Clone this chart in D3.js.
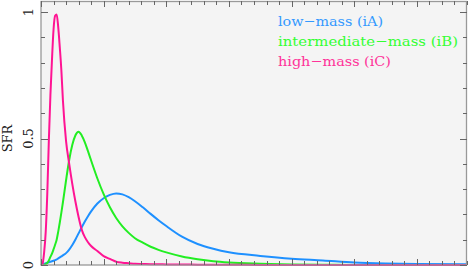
<!DOCTYPE html>
<html><head><meta charset="utf-8">
<script src="https://cdn.jsdelivr.net/npm/d3@7"></script>
<style>html,body{margin:0;padding:0;background:#fff;}svg{display:block;}</style>
</head><body>
<script>
// Data (age in Gyr, star formation rate normalised)
const age = [0, 0.05, 0.1, 0.15, 0.2, 0.25, 0.3, 0.35, 0.4, 0.45, 0.5, 0.55, 0.6, 0.65, 0.7, 0.8, 0.9, 1.0, 1.1, 1.2, 1.3, 1.4, 1.5, 1.6, 1.8, 2.0, 2.2, 2.4, 2.6, 2.8, 3.0, 3.25, 3.5, 3.75, 4.0, 4.5, 5.0, 5.5, 6.0, 7.0, 8.0, 9.0, 10.0, 11.0, 12.0, 13.6];
const lowMass = [0, 0.002, 0.005, 0.007, 0.009, 0.011, 0.013, 0.015, 0.017, 0.019, 0.022, 0.026, 0.03, 0.034, 0.038, 0.047, 0.061, 0.079, 0.101, 0.125, 0.149, 0.172, 0.193, 0.212, 0.243, 0.264, 0.277, 0.283, 0.279, 0.268, 0.252, 0.228, 0.202, 0.177, 0.154, 0.112, 0.083, 0.064, 0.05, 0.036, 0.025, 0.018, 0.01, 0.006, 0.004, 0.003];
const intermediateMass = [0, 0, 0.001, 0.003, 0.008, 0.018, 0.032, 0.045, 0.062, 0.08, 0.1, 0.132, 0.168, 0.207, 0.248, 0.335, 0.415, 0.475, 0.513, 0.527, 0.512, 0.485, 0.45, 0.413, 0.342, 0.28, 0.228, 0.186, 0.153, 0.127, 0.106, 0.088, 0.072, 0.06, 0.05, 0.034, 0.023, 0.015, 0.01, 0.005, 0.002, 0.001, 0, 0, 0, 0];
const highMass = [0, 0.005, 0.05, 0.13, 0.28, 0.49, 0.67, 0.81, 0.93, 0.985, 0.99, 0.94, 0.86, 0.77, 0.65, 0.49, 0.40, 0.32, 0.25, 0.19, 0.14, 0.11, 0.09, 0.075, 0.055, 0.035, 0.024, 0.013, 0.009, 0.007, 0.005, 0.004, 0.003, 0.003, 0.002, 0.002, 0.001, 0.001, 0.001, 0, 0, 0, 0, 0, 0, 0];
const seriesNames = ["low\u2212mass (iA)", "intermediate\u2212mass (iB)", "high\u2212mass (iC)"];
const seriesColors = ["#1e90ff", "#22ee22", "#ff1493"];
const labelColors = ["#3399ff", "#33ff33", "#ff3399"];
const xMajorTicks = [0, 2, 4, 6, 8, 10, 12];
const xMinorTicks = [0.4, 0.8, 1.2, 1.6, 2.4, 2.8, 3.2, 3.6, 4.4, 4.8, 5.2, 5.6, 6.4, 6.8, 7.2, 7.6, 8.4, 8.8, 9.2, 9.6, 10.4, 10.8, 11.2, 11.6, 12.4, 12.8, 13.2, 13.6];
const yMajorTicks = [0, 0.5, 1];
const yTickLabels = ["0", "0.5", "1"];
const yMinorTicks = [0.1, 0.2, 0.3, 0.4, 0.6, 0.7, 0.8, 0.9];
const yTitle = "SFR";

const W = 469, H = 270;
const m = {top: 1, right: 2, bottom: 5, left: 41};
const svg = d3.select("body").append("svg").attr("width", W).attr("height", H);

const x = d3.scaleLinear().domain([0, 13.6]).range([m.left, W - m.right]);
const y = d3.scaleLinear().domain([0, 1.0435]).range([H - m.bottom, m.top]);

svg.append("rect").attr("x", m.left).attr("y", m.top)
  .attr("width", W - m.left - m.right).attr("height", H - m.top - m.bottom)
  .attr("fill", "#f4f4f4");

// curves
const series = [lowMass, intermediateMass, highMass];
const line = d3.line().x((d, i) => x(age[i])).y(d => y(d)).curve(d3.curveMonotoneX);
const g = svg.append("g");
series.forEach((s, k) => {
  g.append("path").datum(s).attr("d", line).attr("fill", "none")
    .attr("stroke", seriesColors[k]).attr("stroke-width", 2);
});

// frame
svg.append("rect").attr("x", m.left).attr("y", m.top + 0.5)
  .attr("width", W - m.left - m.right - 0.5).attr("height", H - m.top - m.bottom - 0.5)
  .attr("fill", "none").attr("stroke", "#999").attr("stroke-width", 1.3);

// ticks on all four sides
const tk = svg.append("g").attr("stroke", "#666").attr("stroke-width", 1);
const drawX = (vals, len) => vals.forEach(v => {
  const px = Math.round(x(v)) + 0.5;
  tk.append("line").attr("x1", px).attr("x2", px).attr("y1", y.range()[0]).attr("y2", y.range()[0] - len);
  tk.append("line").attr("x1", px).attr("x2", px).attr("y1", y.range()[1]).attr("y2", y.range()[1] + len);
});
drawX(xMajorTicks, 6);
drawX(xMinorTicks, 4);
const drawY = (vals, len) => vals.forEach(v => {
  const py = Math.round(y(v)) + 0.5;
  tk.append("line").attr("y1", py).attr("y2", py).attr("x1", x.range()[0]).attr("x2", x.range()[0] + len);
  tk.append("line").attr("y1", py).attr("y2", py).attr("x1", x.range()[1]).attr("x2", x.range()[1] - len);
});
drawY(yMajorTicks, 7);
drawY(yMinorTicks, 4);

const font = "'DejaVu Serif', 'Liberation Serif', serif";
yMajorTicks.forEach((v, i) => {
  svg.append("text").attr("transform", `translate(33,${y(v)}) rotate(-90)`)
    .attr("text-anchor", "middle").attr("font-family", font).attr("font-size", 13)
    .attr("fill", "#222").text(yTickLabels[i]);
});
svg.append("text").attr("transform", `translate(12,${y(0.5)}) rotate(-90)`)
  .attr("text-anchor", "middle").attr("font-family", font).attr("font-size", 13)
  .attr("fill", "#222").text(yTitle);

const legendWidths = [105, 180, 113];
seriesNames.forEach((n, k) => {
  svg.append("text").attr("x", 278).attr("y", 26 + k * 20)
    .attr("font-family", font).attr("font-size", 13.5)
    .attr("textLength", legendWidths[k]).attr("lengthAdjust", "spacingAndGlyphs")
    .attr("fill", labelColors[k]).text(n);
});
</script>
</body></html>
